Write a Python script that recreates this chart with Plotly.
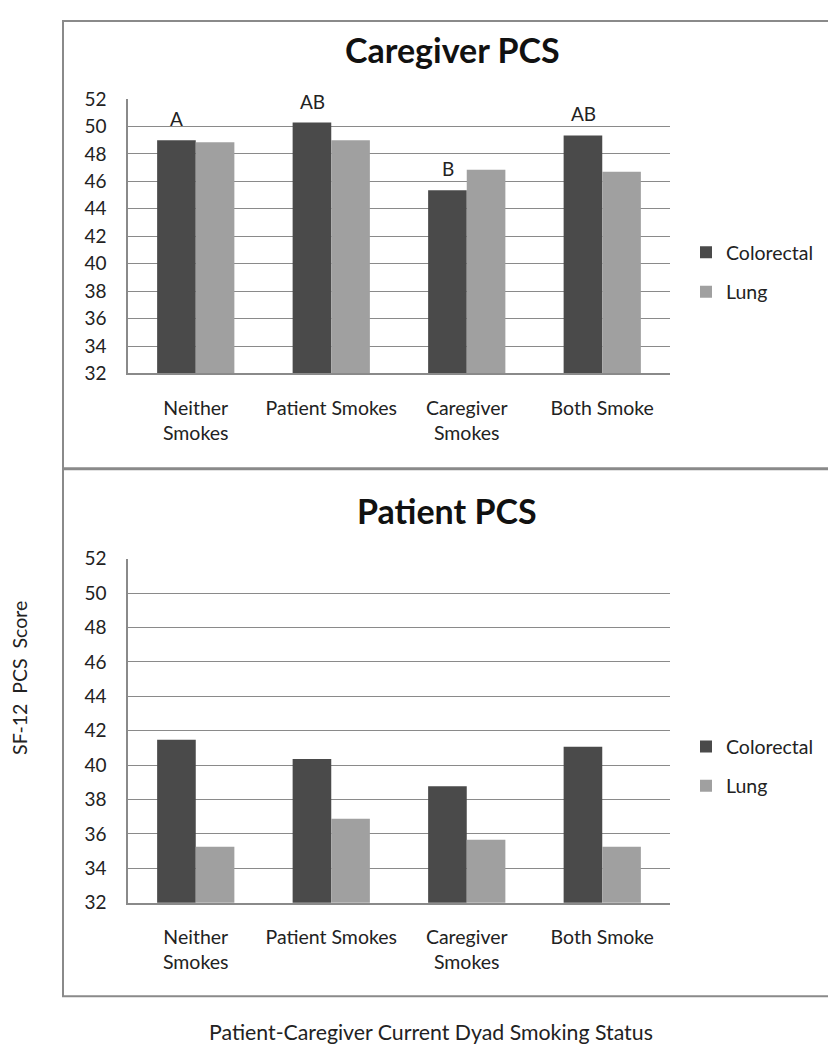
import plotly.graph_objects as go

# figure sits inside the page's default 8px body margin
OFF = 8
W, H = 836 - 2 * OFF, 1050

categories = ["Neither<br>Smokes", "Patient Smokes", "Caregiver<br>Smokes", "Both Smoke"]
series_names = ["Colorectal", "Lung"]
caregiver_colorectal = [49.0, 50.28, 45.36, 49.35]
caregiver_lung = [48.85, 49.0, 46.84, 46.7]
patient_colorectal = [41.48, 40.36, 38.77, 41.07]
patient_lung = [35.25, 36.88, 35.67, 35.25]
sig_letters = ["A", "AB", "B", "AB"]
y_ticks = [32, 34, 36, 38, 40, 42, 44, 46, 48, 50, 52]

c_dark = "#4a4a4a"
c_light = "#a0a0a0"
c_frame = "#8a8a8a"
FONT = "Lato, Calibri, sans-serif"


def px_x(p):
    return (p - OFF) / W


def fig_y(p):
    # layout pixel (from figure top) for a target vertical position p in the picture
    return max((p - 11) / 0.98 - OFF, 1)


def px_y(p):
    return 1 - fig_y(p) / H


fig = go.Figure()

fig.add_trace(go.Bar(x=categories, y=caregiver_colorectal, name=series_names[0],
                     marker=dict(color=c_dark, line=dict(width=0)), xaxis="x", yaxis="y",
                     legend="legend", legendgroup="a"))
fig.add_trace(go.Bar(x=categories, y=caregiver_lung, name=series_names[1],
                     marker=dict(color=c_light, line=dict(width=0)), xaxis="x", yaxis="y",
                     legend="legend", legendgroup="b"))
fig.add_trace(go.Bar(x=categories, y=patient_colorectal, name=series_names[0],
                     marker=dict(color=c_dark, line=dict(width=0)), xaxis="x2", yaxis="y2",
                     legend="legend2", legendgroup="c"))
fig.add_trace(go.Bar(x=categories, y=patient_lung, name=series_names[1],
                     marker=dict(color=c_light, line=dict(width=0)), xaxis="x2", yaxis="y2",
                     legend="legend2", legendgroup="d"))

xdom = [px_x(128), px_x(670)]
axis_common_x = dict(domain=xdom, showgrid=False, showline=True, linecolor=c_frame,
                     linewidth=1.5, ticks="", tickfont=dict(family=FONT, size=19.5, color="#222"),
                     ticklabelstandoff=16, fixedrange=True)
axis_common_y = dict(range=[32, 52], tickvals=y_ticks, showgrid=True, gridcolor=c_frame,
                     gridwidth=1.2, showline=True, linecolor=c_frame, linewidth=1.5,
                     ticks="", tickfont=dict(family=FONT, size=19, color="#222"),
                     ticklabelstandoff=16, zeroline=False, fixedrange=True)

legend_common = dict(xanchor="left", yanchor="top",
                     font=dict(family=FONT, size=19.5, color="#222"), bgcolor="rgba(0,0,0,0)",
                     traceorder="grouped", tracegroupgap=11)

fig.update_layout(
    width=W, height=H,
    margin=dict(l=0, r=0, t=0, b=0),
    paper_bgcolor="white", plot_bgcolor="white",
    barmode="group", bargap=0.43, bargroupgap=0,
    font=dict(family=FONT, color="#222"),
    xaxis=dict(axis_common_x, anchor="y"),
    yaxis=dict(axis_common_y, domain=[px_y(373), px_y(98)], anchor="x"),
    xaxis2=dict(axis_common_x, anchor="y2"),
    yaxis2=dict(axis_common_y, domain=[px_y(903.3), px_y(558.7)], anchor="x2"),
    legend=dict(legend_common, x=px_x(686), y=1 - (fig_y(253) - 21) / H),
    legend2=dict(legend_common, x=px_x(686), y=1 - (fig_y(748) - 21) / H),
    showlegend=True,
)

# panel frames
fig.add_shape(type="rect", xref="paper", yref="paper",
              x0=px_x(63), x1=px_x(830), y0=px_y(468), y1=px_y(8),
              line=dict(color=c_frame, width=2), layer="below")
fig.add_shape(type="rect", xref="paper", yref="paper",
              x0=px_x(63), x1=px_x(830), y0=px_y(997), y1=px_y(469),
              line=dict(color=c_frame, width=2), layer="below")

# panel titles
fig.add_annotation(text="<b>Caregiver PCS</b>", xref="paper", yref="paper",
                   x=px_x(452), y=px_y(48), xanchor="center", yanchor="middle",
                   showarrow=False, font=dict(family=FONT, size=34, color="#111"))
fig.add_annotation(text="<b>Patient PCS</b>", xref="paper", yref="paper",
                   x=px_x(447), y=px_y(510), xanchor="center", yanchor="middle",
                   showarrow=False, font=dict(family=FONT, size=34, color="#111"))

# significance letters above colorectal bars
for cat, val, letter in zip(categories, caregiver_colorectal, sig_letters):
    fig.add_annotation(text=letter, x=cat, y=val, xref="x", yref="y",
                       showarrow=False, xanchor="center", yanchor="bottom",
                       yshift=8, xshift=-19,
                       font=dict(family=FONT, size=19, color="#222"))

# axis titles
fig.add_annotation(text="SF-12  PCS  Score", xref="paper", yref="paper",
                   x=px_x(20), y=px_y(678), xanchor="center", yanchor="middle",
                   showarrow=False, textangle=-90,
                   font=dict(family=FONT, size=19.5, color="#222"))
fig.add_annotation(text="Patient-Caregiver Current Dyad Smoking Status",
                   xref="paper", yref="paper",
                   x=px_x(431), y=px_y(1033), xanchor="center", yanchor="middle",
                   showarrow=False, font=dict(family=FONT, size=21.3, color="#222"))

fig.write_html("out.html")
